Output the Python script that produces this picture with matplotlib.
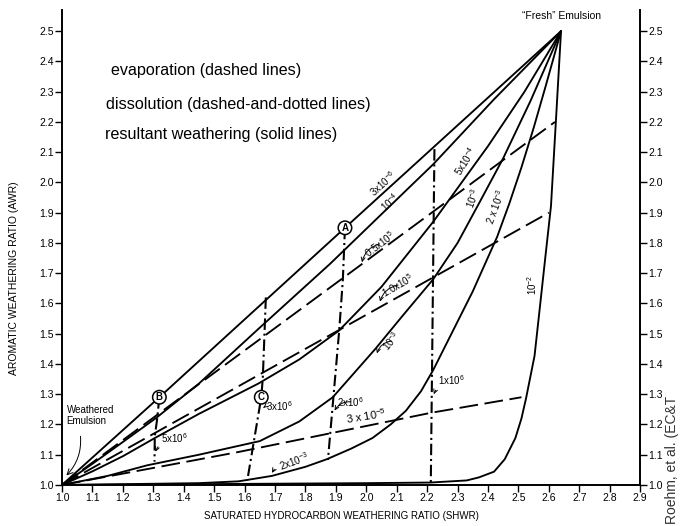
import matplotlib
matplotlib.use('Agg')
import matplotlib.pyplot as plt

plt.rcParams['font.family'] = ['Liberation Sans', 'DejaVu Sans']
plt.rcParams['mathtext.fontset'] = 'custom'
plt.rcParams['mathtext.rm'] = 'Liberation Sans'
plt.rcParams['mathtext.it'] = 'Liberation Sans:italic'
plt.rcParams['mathtext.default'] = 'regular'

# ---------------- data ----------------
x_ticks = [1.0, 1.1, 1.2, 1.3, 1.4, 1.5, 1.6, 1.7, 1.8, 1.9, 2.0, 2.1, 2.2, 2.3,
           2.4, 2.5, 2.6, 2.7, 2.8, 2.9]
y_ticks = [1.0, 1.1, 1.2, 1.3, 1.4, 1.5, 1.6, 1.7, 1.8, 1.9, 2.0, 2.1, 2.2, 2.3,
           2.4, 2.5]

# resultant weathering (solid)
s_3e6_x = [1.00, 1.32, 1.93, 2.64]
s_3e6_y = [1.00, 1.29, 1.85, 2.50]
s_1e4_x = [1.00, 1.10, 1.20, 1.31, 1.45, 1.65, 1.88, 2.05, 2.22, 2.42, 2.64]
s_1e4_y = [1.00, 1.07, 1.142, 1.222, 1.335, 1.52, 1.73, 1.895, 2.06, 2.275, 2.50]
s_5e4_x = [1.00, 1.10, 1.20, 1.305, 1.45, 1.645, 1.78, 1.91, 2.05, 2.22, 2.40,
           2.52, 2.64]
s_5e4_y = [1.00, 1.045, 1.095, 1.155, 1.235, 1.335, 1.415, 1.51, 1.655, 1.87, 2.12,
           2.30, 2.50]
s_1e3_x = [1.00, 1.15, 1.28, 1.45, 1.65, 1.78, 1.89, 2.03, 2.12, 2.22, 2.30, 2.37,
           2.45, 2.54, 2.64]
s_1e3_y = [1.00, 1.03, 1.065, 1.10, 1.145, 1.21, 1.29, 1.45, 1.56, 1.68, 1.80, 1.93,
           2.08, 2.27, 2.50]
s_2e3_x = [1.00, 1.15, 1.30, 1.45, 1.58, 1.69, 1.80, 1.87, 1.95, 2.02, 2.08, 2.13,
           2.18, 2.22, 2.28, 2.35, 2.43, 2.47, 2.51, 2.55, 2.59, 2.64]
s_2e3_y = [1.00, 1.002, 1.004, 1.006, 1.012, 1.03, 1.06, 1.085, 1.12, 1.155, 1.20,
           1.245, 1.31, 1.38, 1.50, 1.64, 1.82, 1.93, 2.05, 2.18, 2.32, 2.50]
s_1e2_x = [1.00, 1.50, 2.00, 2.21, 2.33, 2.37, 2.42, 2.455, 2.49, 2.51, 2.525,
           2.553, 2.571, 2.589, 2.607, 2.623, 2.64]
s_1e2_y = [1.00, 1.003, 1.006, 1.008, 1.015, 1.025, 1.044, 1.085, 1.155, 1.22,
           1.286, 1.427, 1.592, 1.758, 1.922, 2.20, 2.50]

# evaporation (dashed)
d_05e5_x = [1.00, 2.62]
d_05e5_y = [1.00, 2.20]
d_10e5_x = [1.00, 2.60]
d_10e5_y = [1.00, 1.90]
d_3e5_x = [1.00, 1.32, 1.58, 2.215, 2.51]
d_3e5_y = [1.00, 1.06, 1.109, 1.239, 1.29]

# dissolution (dash-dot)
v_5e6_x = [1.32, 1.313, 1.305, 1.304]
v_5e6_y = [1.29, 1.22, 1.16, 1.077]
v_3e6_x = [1.67, 1.66, 1.655, 1.609]
v_3e6_y = [1.62, 1.354, 1.29, 1.015]
v_2e6_x = [1.93, 1.923, 1.911, 1.892, 1.874]
v_2e6_y = [1.85, 1.678, 1.51, 1.29, 1.083]
v_1e6_x = [2.224, 2.212]
v_1e6_y = [2.11, 1.00]

# ---------------- figure ----------------
fig = plt.figure(figsize=(6.81, 5.26), dpi=100)
ax = fig.add_axes([0.091, 0.078, 0.849, 0.903])
ax.set_xlim(1.0, 2.9)
ax.set_ylim(1.0, 2.57)

lw = 1.35
solid = dict(color='black', lw=lw, solid_capstyle='round', solid_joinstyle='round')
for xs, ys in [(s_3e6_x, s_3e6_y), (s_1e4_x, s_1e4_y), (s_5e4_x, s_5e4_y),
               (s_1e3_x, s_1e3_y), (s_2e3_x, s_2e3_y), (s_1e2_x, s_1e2_y)]:
    ax.plot(xs, ys, **solid)

for xs, ys in [(d_05e5_x, d_05e5_y), (d_10e5_x, d_10e5_y), (d_3e5_x, d_3e5_y)]:
    ax.plot(xs, ys, color='black', lw=lw, dashes=(10, 3.5))

for xs, ys in [(v_5e6_x, v_5e6_y), (v_3e6_x, v_3e6_y), (v_2e6_x, v_2e6_y),
               (v_1e6_x, v_1e6_y)]:
    ax.plot(xs, ys, color='black', lw=lw + 0.15, dashes=(5.5, 1.8, 1, 1.8))

# circled letters
circ = dict(boxstyle='circle,pad=0.18', fc='white', ec='black', lw=1.1)
for lab, (cx, cy) in zip(['A', 'B', 'C'], [(1.93, 1.85), (1.32, 1.29), (1.655, 1.29)]):
    ax.text(cx, cy, lab, ha='center', va='center', fontsize=7, fontweight='bold',
            bbox=circ, zorder=5)

fs = 7
# rotated labels along curves
ax.text(2.055, 1.995, r'3x10$^{-6}$', rotation=42, ha='center', va='center', fontsize=fs)
ax.text(2.078, 1.935, r'10$^{-4}$', rotation=42, ha='center', va='center', fontsize=fs)
ax.text(2.325, 2.07, r'5x10$^{-4}$', rotation=58, ha='center', va='center', fontsize=fs)
ax.text(2.352, 1.95, r'10$^{-3}$', rotation=70, ha='center', va='center', fontsize=fs)
ax.text(2.425, 1.92, r'2 x 10$^{-3}$', rotation=70, ha='center', va='center', fontsize=fs)
ax.text(2.545, 1.66, r'10$^{-2}$', rotation=90, ha='center', va='center', fontsize=fs)
ax.text(2.0, 1.228, r'3 x 10$^{-5}$', rotation=9, ha='center', va='center', fontsize=8)

arr = dict(arrowstyle='->', lw=0.7, color='black', shrinkA=0, shrinkB=0,
           connectionstyle='arc3,rad=0.3')
def lab_arrow(txt, tx, ty, px, py, rot=0, size=fs):
    ax.annotate(txt, xy=(px, py), xytext=(tx, ty), ha='left', va='center',
                rotation=rot, rotation_mode='anchor', fontsize=size,
                arrowprops=arr)

lab_arrow(r'0.5x10$^5$', 1.998, 1.762, 1.986, 1.736, rot=37)
lab_arrow(r'1.0x10$^5$', 2.055, 1.632, 2.045, 1.606, rot=30)
lab_arrow(r'10$^{-3}$', 2.06, 1.45, 2.035, 1.435, rot=50)
lab_arrow(r'1x10$^6$', 2.235, 1.345, 2.222, 1.30)
lab_arrow(r'2x10$^6$', 1.905, 1.275, 1.896, 1.246)
lab_arrow(r'3x10$^6$', 1.672, 1.262, 1.662, 1.255)
lab_arrow(r'5x10$^6$', 1.325, 1.155, 1.307, 1.11)
lab_arrow(r'2x10$^{-3}$', 1.715, 1.062, 1.69, 1.04, rot=20)

ax.text(1.015, 1.23, 'Weathered\nEmulsion', ha='left', va='center', fontsize=7,
        linespacing=1.2)
ax.annotate('', xy=(1.008, 1.025), xytext=(1.06, 1.17),
            arrowprops=dict(arrowstyle='->', lw=0.7, color='black',
                            connectionstyle='arc3,rad=-0.25'))
ax.text(2.64, 2.535, '\u201cFresh\u201d Emulsion', ha='center', va='bottom', fontsize=7.5)

# axes styling
ax.spines['top'].set_visible(False)
for s in ['left', 'right', 'bottom']:
    ax.spines[s].set_linewidth(1.4)
ax.set_xticks(x_ticks)
ax.set_xticklabels(['%.1f' % v for v in x_ticks])
ax.set_yticks(y_ticks)
ax.set_yticklabels(['%.1f' % v for v in y_ticks])
ax.tick_params(axis='both', direction='out', length=5, width=1, labelsize=7.5, pad=1)
ax.tick_params(axis='y', right=True, labelright=True)
ax.set_xlabel('SATURATED HYDROCARBON WEATHERING RATIO (SHWR)', fontsize=7)
ax.xaxis.set_label_coords(0.484, -0.055)
ax.set_ylabel('AROMATIC WEATHERING RATIO (AWR)', fontsize=7.5)
ax.yaxis.set_label_coords(-0.075, 0.436)

# legend-style text block
fig.text(111 / 681, 1 - 71 / 526, 'evaporation (dashed lines)', fontsize=11.6,
         ha='left', va='center')
fig.text(106 / 681, 1 - 104 / 526, 'dissolution (dashed-and-dotted lines)', fontsize=11.6,
         ha='left', va='center')
fig.text(105 / 681, 1 - 135 / 526, 'resultant weathering (solid lines)', fontsize=11.6,
         ha='left', va='center')

# source note at the right edge
fig.text(672 / 681, 0.004, 'Roehm, et al. (EC&T', rotation=90, fontsize=10,
         ha='center', va='bottom', color='#333333')

fig.savefig('out.png', dpi=100)
